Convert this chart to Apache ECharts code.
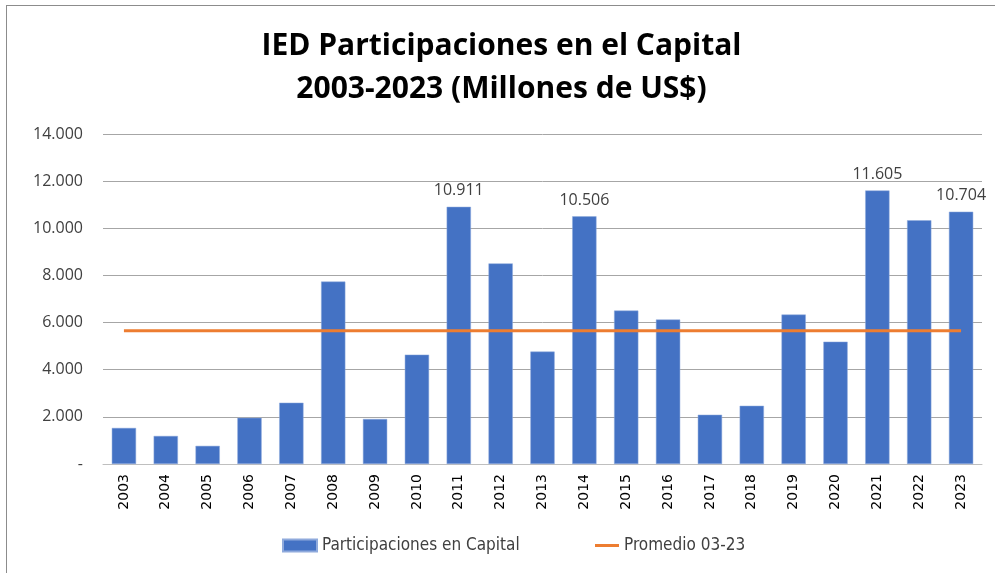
<!DOCTYPE html>
<html>
<head>
<meta charset="utf-8">
<script src="https://cdn.jsdelivr.net/npm/echarts@6/dist/echarts.min.js"></script>
<style>
  html, body { margin: 0; padding: 0; background: #fff; }
  #main { position: absolute; left: 6px; top: 5px; width: 989px; height: 568px;
          border-left: 1px solid #8c8c8c; border-top: 1px solid #8c8c8c; }
</style>
</head>
<body>
<div id="main"></div>
<script>
var years = ['2003', '2004', '2005', '2006', '2007', '2008', '2009', '2010', '2011', '2012',
  '2013', '2014', '2015', '2016', '2017', '2018', '2019', '2020', '2021', '2022', '2023']
var participaciones = [1530, 1190, 770, 1960, 2600, 7740, 1910, 4640, 10911, 8510,
  4770, 10506, 6510, 6130, 2090, 2470, 6340, 5190, 11605, 10340, 10704]
var promedio = 5650
var labeledYears = ['2011', '2014', '2021', '2023']
var yTicks = [0, 2000, 4000, 6000, 8000, 10000, 12000, 14000]

function fmt (v) {
  if (v === 0) return '-'
  return String(v).replace(/\B(?=(\d{3})+(?!\d))/g, '.')
}

var chart = echarts.init(document.getElementById('main'))

var barData = participaciones.map(function (v, i) {
  return {
    value: v,
    label: { show: labeledYears.indexOf(years[i]) >= 0 }
  }
})

var legendText = {
  fontFamily: "'DejaVu Sans Condensed', Roboto, sans-serif",
  fontSize: 17,
  color: '#404040'
}

var option = {
  animation: false,
  title: {
    text: 'IED Participaciones en el Capital\n2003-2023 (Millones de US$)',
    left: 'center',
    top: 14,
    textStyle: {
      fontFamily: 'Open Sans',
      fontWeight: 'bold',
      fontSize: 30,
      lineHeight: 43,
      color: '#000'
    }
  },
  legend: [
    {
      left: 270,
      bottom: 15,
      itemWidth: 34,
      itemHeight: 12,
      textStyle: legendText,
      data: [{ name: 'Participaciones en Capital', icon: 'rect' }]
    },
    {
      left: 583,
      bottom: 15,
      itemWidth: 24,
      itemHeight: 3,
      textStyle: legendText,
      data: [{ name: 'Promedio 03-23', icon: 'rect', itemStyle: { color: '#ED7D31' } }]
    }
  ],
  grid: { left: 96, right: 14, top: 128, bottom: 110 },
  xAxis: {
    type: 'category',
    data: years,
    axisTick: { show: false },
    axisLine: { lineStyle: { color: '#bfbfbf', width: 1 } },
    axisLabel: {
      rotate: 90,
      color: '#000',
      fontFamily: 'DejaVu Sans',
      fontSize: 14,
      margin: 10
    }
  },
  yAxis: {
    type: 'value',
    min: 0,
    max: 14000,
    interval: 2000,
    axisLine: { show: false },
    axisTick: { show: false },
    splitLine: { lineStyle: { color: '#a6a6a6', width: 1 } },
    axisLabel: {
      color: '#404040',
      fontFamily: 'Open Sans',
      fontSize: 16,
      margin: 20,
      formatter: function (v) { return yTicks.indexOf(v) >= 0 ? fmt(v) : '' }
    }
  },
  series: [
    {
      name: 'Participaciones en Capital',
      type: 'bar',
      data: barData,
      barCategoryGap: '42%',
      itemStyle: { color: '#4472C4', borderColor: '#8faadc', borderWidth: 0.5 },
      label: {
        position: 'top',
        distance: 8,
        color: '#404040',
        fontFamily: 'Open Sans',
        fontSize: 16,
        formatter: function (p) { return fmt(p.value) }
      }
    },
    {
      name: 'Promedio 03-23',
      type: 'line',
      data: years.map(function () { return promedio }),
      symbol: 'none',
      lineStyle: { color: '#ED7D31', width: 3 },
      itemStyle: { color: '#ED7D31' },
      z: 3
    }
  ]
}

chart.setOption(option)
</script>
</body>
</html>
